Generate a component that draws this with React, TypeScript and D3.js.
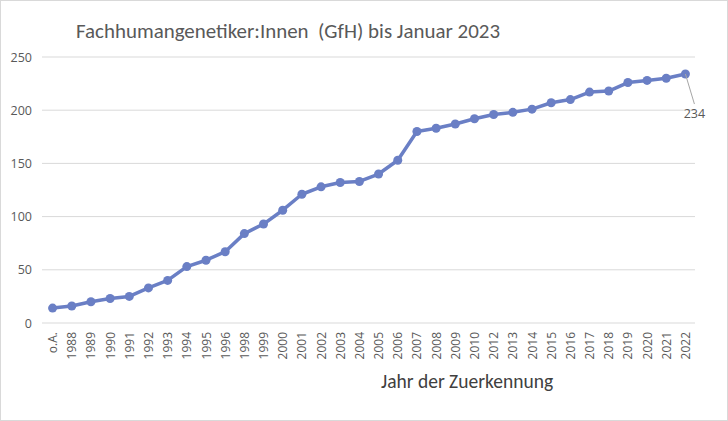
import * as React from "react";
import { scaleBand, scaleLinear, line } from "d3";

const years = [
    "o.A.", "1988", "1989", "1990", "1991", "1992", "1993", "1994", "1995", "1996",
    "1998", "1999", "2000", "2001", "2002", "2003", "2004", "2005", "2006", "2007",
    "2008", "2009", "2010", "2012", "2013", "2014", "2015", "2016", "2017", "2018",
    "2019", "2020", "2021", "2022"
];
const counts = [
    14, 16, 20, 23, 25, 33, 40, 53, 59, 67,
    84, 93, 106, 121, 128, 132, 133, 140, 153, 180,
    183, 187, 192, 196, 198, 201, 207, 210, 217, 218,
    226, 228, 230, 234
];
const yTicks = [0, 50, 100, 150, 200, 250];

const W = 728;
const H = 421;
const font = "Carlito, Calibri, Lato, sans-serif";
const tickFont = "'Open Sans', 'Segoe UI', sans-serif";

export default function App() {
    const xScale = scaleBand<string>()
        .domain(years)
        .range([43, 695]);

    const yScale = scaleLinear()
        .domain([0, 250])
        .range([323, 57]);

    const cx = (d: string) => (xScale(d) as number) + xScale.bandwidth() / 2;

    const path = line<number>()
        .x((_, i) => cx(years[i]))
        .y(v => yScale(v))(counts);

    const lastX = cx(years[years.length - 1]);
    const lastY = yScale(counts[counts.length - 1]);

    return (
        <div style={{ position: "absolute", left: 0, top: 0 }}>
            <svg width={W} height={H} style={{ display: "block", fontFamily: font }}>
                <rect x={0.5} y={0.5} width={W - 1} height={H - 1} fill="#fff" stroke="#d9d9d9" />
                <text x={76} y={38} fontSize={20} fill="#595959" textLength={424} lengthAdjust="spacingAndGlyphs"
                    style={{ whiteSpace: "pre" }}>
                    {"Fachhumangenetiker:Innen  (GfH) bis Januar 2023"}
                </text>

                {/* grid */}
                {yTicks.map(t => (
                    <g key={t}>
                        <line x1={42} x2={695} y1={yScale(t)} y2={yScale(t)} stroke="#d9d9d9" strokeWidth={1} />
                        <text x={32} y={yScale(t) + 4.5} textAnchor="end" fontSize={12.5} fill="#595959"
                            fontFamily={tickFont}>{t}</text>
                    </g>
                ))}

                {/* x labels */}
                {years.map(d => (
                    <text key={d} transform={`translate(${cx(d) + 4.5}, 332) rotate(-90)`}
                        textAnchor="end" fontSize={12} fill="#595959" fontFamily={tickFont}>{d}</text>
                ))}

                <text x={467} y={388} textAnchor="middle" fontSize={19.5} fill="#404040">Jahr der Zuerkennung</text>

                {/* series */}
                <path d={path || ""} fill="none" stroke="#6a7fc5" strokeWidth={3.5} strokeLinejoin="round" />
                {counts.map((v, i) => (
                    <circle key={i} cx={cx(years[i])} cy={yScale(v)} r={4.5} fill="#6a7fc5" />
                ))}

                {/* data label */}
                <line x1={lastX} y1={lastY} x2={lastX + 9} y2={lastY + 30} stroke="#a6a6a6" strokeWidth={1} />
                <text x={lastX + 9} y={lastY + 44} textAnchor="middle" fontSize={12.5} fill="#595959"
                    fontFamily={tickFont}>
                    {counts[counts.length - 1]}
                </text>
            </svg>
        </div>
    );
}
